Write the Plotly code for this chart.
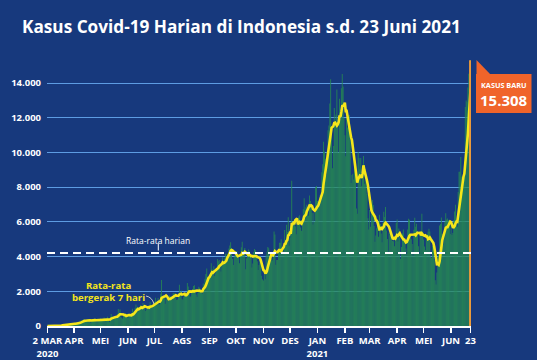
import pandas as pd
import numpy as np
import plotly.graph_objects as go

# ---- Data: daily new cases (Indonesia), 2 Mar 2020 - 23 Jun 2021 ----
mar20 = [2,0,0,0,2,0,2,13,8,7,0,35,27,21,17,38,55,82,60,81,64,65,107,105,103,153,109,130,129,114]
apr20 = [149,113,196,106,181,218,247,218,337,219,330,399,316,282,297,380,407,325,327,185,375,283,357,436,396,275,214,415,347,347]
mei20 = [433,292,349,395,484,367,338,336,533,387,233,484,689,568,490,529,489,496,486,693,973,634,949,526,479,415,686,687,678,557,700]
jun20 = [467,609,684,585,703,993,672,847,1043,1241,979,1111,857,1017,1208,1106,1031,1331,1041,1226,862,954,1051,1113,1178,1385,1198,1082,1082,1293]
jul20 = [1385,1624,1301,1447,1607,1209,1268,1853,2657,1611,1671,1681,1282,1591,1522,1574,1462,1752,1693,1639,1655,1882,1906,1761,1868,1492,1525,1748,2381,1904,2040]
ags20 = [1560,1519,1679,1922,1815,1882,2473,2277,1893,1687,1693,1942,2098,2307,2345,2081,1821,1673,1902,2266,2197,2090,2037,1877,2447,2306,2719,3003,3308,2858,2743]
sep20 = [2775,3075,3622,3269,3128,3444,2880,3046,3307,3861,3737,3806,3636,3141,3507,3963,3635,3891,4168,3989,4176,4071,4465,4634,4823,4494,3874,3509,4002,4284]
okt20 = [4174,4317,4007,3992,3622,4056,4538,4850,4094,4294,4497,3267,3906,4127,4411,4301,4105,4070,3373,3602,4267,4432,4369,4070,3732,3222,3520,4029,3565,2897,2696]
nov20 = [2618,2973,2697,4065,4262,4555,4483,3880,3779,3880,3770,4173,5444,5272,3535,3807,3807,4265,4798,4792,4998,4360,4442,4192,5534,4917,5828,5418,6267,4617]
des20 = [5092,5533,8369,5803,6027,6089,5754,5292,6058,6033,6310,6388,5681,5489,6120,6726,7354,6689,6848,6982,6848,6347,7514,7199,6903,6528,5854,6528,6000,8002,8074]
jan21 = [7203,6877,6877,7545,7445,8854,9321,10617,10046,9640,8692,10047,11278,11557,12818,14224,11287,9086,10365,12568,11703,12191,13632,11788,9994,13094,11948,13695,14518,13802,12001]
feb21 = [10994,9776,11984,11434,11749,12156,10768,8242,8700,8776,8435,9869,8844,6765,6462,10029,9687,9039,9684,8054,8500,9800,8200,8400,8100,7600,6208,5560]
mar21 = [6680,5712,6808,7264,6971,5767,4854,5218,5633,5926,5144,6412,5880,5337,4819,5929,6585,6279,6852,5505,5008,4277,5379,5227,5451,5050,4900,4883,4600,5143,5937]
apr21 = [6142,4871,5617,5095,3867,4549,5325,5556,4891,5041,4472,4128,5566,6177,6125,5272,5004,4722,4052,5549,6243,5720,5895,5436,4600,4169,5476,5241,6467,5444]
mei21 = [4979,4585,4369,4952,5285,5424,5608,5444,4000,3922,4608,4500,3800,2633,2385,3080,3992,4295,5797,5871,6246,5296,4700,5022,6000,6500,6136,6200,6100,5900,5300]
jun21 = [5801,5246,5353,6090,6594,6993,6000,5724,7725,8892,8892,9741,8600,8189,8161,9000,12624,12990,12906,13737,14536,13668,15308]

kasus = (mar20 + apr20 + mei20 + jun20 + jul20 + ags20 + sep20 + okt20 + nov20 + des20
         + jan21 + feb21 + mar21 + apr21 + mei21 + jun21)
tanggal = pd.date_range("2020-03-02", periods=len(kasus), freq="D")
rata7 = pd.Series(kasus).rolling(7, min_periods=1).mean()
rata_harian = 4213  # dashed "Rata-rata harian" level

ytick_vals = [0, 2000, 4000, 6000, 8000, 10000, 12000, 14000]
ytick_text = ["0", "2.000", "4.000", "6.000", "8.000", "10.000", "12.000", "14.000"]
xtick_vals = ["2020-03-02", "2020-04-01", "2020-05-01", "2020-06-01", "2020-07-01", "2020-08-01",
              "2020-09-01", "2020-10-01", "2020-11-01", "2020-12-01", "2021-01-01", "2021-02-01",
              "2021-03-01", "2021-04-01", "2021-05-01", "2021-06-01", "2021-06-23"]
xtick_text = ["2 MAR<br>2020", "APR", "MEI", "JUN", "JUL", "AGS", "SEP", "OKT", "NOV", "DES",
              "JAN<br>2021", "FEB", "MAR", "APR", "MEI", "JUN", "23"]

BG = "#17397d"
GREEN = "#278b52"
YELLOW = "#f5e61a"
AMBER = "#eb9a3a"
ORANGE = "#f0642a"
GRID = "#5d9ce2"
FONT = "Open Sans"

# plot area in pixels
L, R, T, B = 47, 471, 57, 326
def px(x):
    return (x - L) / (R - L)
def py(y):
    return (B - y) / (B - T)

fig = go.Figure()
fig.add_trace(go.Bar(x=tanggal, y=kasus, marker=dict(color=GREEN, line=dict(width=0)),
                     hoverinfo="skip"))
fig.add_trace(go.Scatter(x=tanggal, y=rata7, mode="lines",
                         line=dict(color=YELLOW, width=2.6), hoverinfo="skip"))
fig.add_trace(go.Scatter(x=[tanggal[-1], tanggal[-1]], y=[0, kasus[-1]], mode="lines",
                         line=dict(color=AMBER, width=3), hoverinfo="skip"))

shapes = [
    dict(type="line", xref="paper", yref="y", x0=0, x1=1, y0=rata_harian, y1=rata_harian,
         line=dict(color="white", width=2, dash="8px,5px"), layer="above"),
    dict(type="line", xref="paper", yref="paper", x0=px(158.3), x1=px(158.3), y0=py(243.5), y1=py(250.5),
         line=dict(color="white", width=1), layer="above"),
    dict(type="path", xref="paper", yref="paper",
         path=f"M {px(146)},{py(296)} Q {px(152)},{py(297)} {px(154)},{py(304)}",
         line=dict(color="#c8c8c8", width=1), layer="above"),
    dict(type="rect", xref="paper", yref="paper", x0=px(476), x1=px(531.5), y0=py(113), y1=py(74),
         fillcolor=ORANGE, line=dict(width=0), layer="above"),
    dict(type="path", xref="paper", yref="paper",
         path=f"M {px(476.5)},{py(60)} L {px(476.5)},{py(75)} L {px(491)},{py(75)} Z",
         fillcolor=ORANGE, line=dict(width=0), layer="above"),
]

annotations = [
    dict(text="Rata-rata harian", xref="paper", yref="paper", x=px(158), y=py(240),
         xanchor="center", yanchor="middle", showarrow=False,
         font=dict(family=FONT, size=8.5, color="white")),
    dict(text="Rata-rata<br>bergerak 7 hari", xref="paper", yref="paper", x=px(108), y=py(291.5),
         xanchor="center", yanchor="middle", showarrow=False, align="center",
         font=dict(family=FONT, size=9.6, color=YELLOW, weight=700)),
    dict(text="KASUS BARU", xref="paper", yref="paper", x=px(504), y=py(84.5),
         xanchor="center", yanchor="middle", showarrow=False,
         font=dict(family=FONT, size=7.3, color="white", weight=700)),
    dict(text=f"{kasus[-1]:,}".replace(",", "."), xref="paper", yref="paper", x=px(504), y=py(99.5),
         xanchor="center", yanchor="middle", showarrow=False,
         font=dict(family=FONT, size=15, color="white", weight=700)),
]

fig.update_layout(
    width=537, height=360,
    margin=dict(l=L, r=537 - R, t=T, b=360 - B, autoexpand=False),
    paper_bgcolor=BG, plot_bgcolor=BG,
    showlegend=False, bargap=0.08,
    title=dict(text="Kasus Covid-19 Harian di Indonesia s.d. 23 Juni 2021",
               x=22 / 537, xref="container", xanchor="left",
               y=1 - 27 / 360, yref="container", yanchor="middle",
               font=dict(family=FONT, size=17.2, color="white", weight=700)),
    shapes=shapes, annotations=annotations,
    xaxis=dict(type="date", range=["2020-03-01 12:00", "2021-06-23 12:00"],
               tickvals=xtick_vals, ticktext=xtick_text, tickangle=0,
               ticks="outside", ticklen=5, tickwidth=1.5, tickcolor="white",
               showline=True, linecolor="white", linewidth=2,
               showgrid=False, zeroline=False, automargin=False,
               tickfont=dict(family=FONT, size=9.5, color="white", weight=700)),
    yaxis=dict(range=[0, 15500], tickvals=ytick_vals, ticktext=ytick_text,
               showgrid=True, gridcolor=GRID, gridwidth=1, zeroline=False,
               showline=False, ticks="", automargin=False, ticklabelstandoff=5,
               tickfont=dict(family=FONT, size=9.5, color="white", weight=700)),
)

fig.write_html("out.html", config={"displayModeBar": False, "staticPlot": True},
               post_script="document.body.style.margin='0';document.body.style.padding='0';"
                           "document.body.style.background='" + BG + "';")
